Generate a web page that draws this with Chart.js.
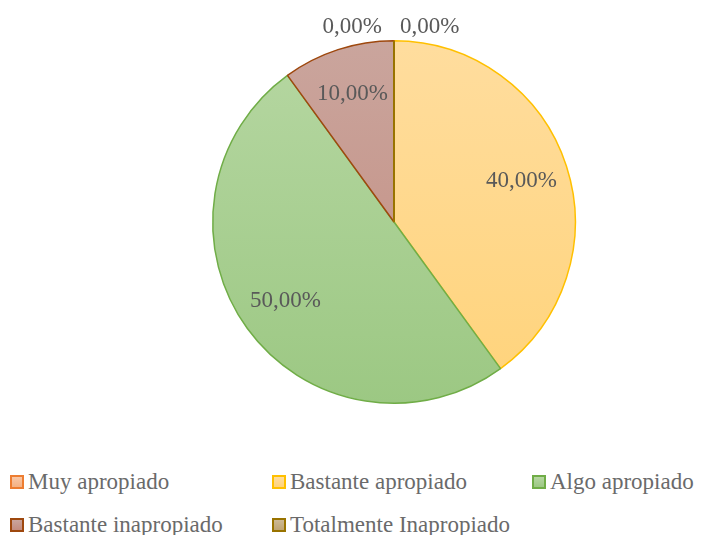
<!DOCTYPE html>
<html>
<head>
<meta charset="utf-8">
<script src="https://cdn.jsdelivr.net/npm/chart.js@4"></script>
<style>
  body { margin: 0; background: #fff; }
  #wrap { position: relative; width: 702px; height: 535px; }
  #legend .item {
    position: absolute; display: flex; align-items: center;
    font-family: 'Liberation Serif', 'DejaVu Serif', serif;
    font-size: 23px; color: #6a6a6a; line-height: 26px; white-space: nowrap;
  }
  #legend .box { width: 10px; height: 10px; border: 2px solid; margin-right: 4px; }
</style>
</head>
<body>
<div id="wrap">
  <canvas id="myChart" width="702" height="444"></canvas>
  <div id="legend"></div>
</div>

<script>
    // datos del gráfico
    var categorias = ['Muy apropiado', 'Bastante apropiado', 'Algo apropiado', 'Bastante inapropiado', 'Totalmente Inapropiado'];
    var valores = [0, 40, 50, 10, 0];
    var etiquetas = ['0,00%', '40,00%', '50,00%', '10,00%', '0,00%'];

    // colores (relleno arriba / abajo, borde)
    var rellenoArriba = ['#F9C7A6', '#FFDD9E', '#B6D7A2', '#CAA59D', '#CDB994'];
    var rellenoAbajo = ['#F4B183', '#FFD37A', '#9CC883', '#C38C7F', '#BFA473'];
    var bordes = ['#ED7D31', '#FFC000', '#70AD47', '#9E480E', '#997300'];

    var fuente = "'Liberation Serif', 'DejaVu Serif', serif";

    function degradado(context) {
        var chart = context.chart;
        var area = chart.chartArea;
        if (!area) return rellenoAbajo[context.dataIndex];
        var g = chart.ctx.createLinearGradient(0, area.top, 0, area.bottom);
        g.addColorStop(0, rellenoArriba[context.dataIndex]);
        g.addColorStop(1, rellenoAbajo[context.dataIndex]);
        return g;
    }

    // etiquetas de datos sobre el pastel
    var etiquetasPlugin = {
        id: 'etiquetas',
        afterDatasetsDraw: function(chart) {
            var ctx = chart.ctx;
            var arcs = chart.getDatasetMeta(0).data;
            ctx.save();
            // linea de los sectores con valor 0
            arcs.forEach(function(arc, i) {
                if (valores[i] !== 0) return;
                ctx.beginPath();
                ctx.moveTo(arc.x, arc.y);
                ctx.lineTo(arc.x + Math.cos(arc.startAngle) * arc.outerRadius, arc.y + Math.sin(arc.startAngle) * arc.outerRadius);
                ctx.strokeStyle = bordes[i];
                ctx.lineWidth = 2;
                ctx.stroke();
            });
            ctx.font = '23px ' + fuente;
            ctx.fillStyle = '#595959';
            ctx.textBaseline = 'middle';
            arcs.forEach(function(arc, i) {
                var mid = (arc.startAngle + arc.endAngle) / 2;
                if (valores[i] === 0) {
                    var r = arc.outerRadius + 14;
                    var x = arc.x + Math.cos(mid) * r;
                    var y = arc.y + Math.sin(mid) * r;
                    if (i < valores.length / 2) {
                        ctx.textAlign = 'left';
                        ctx.fillText(etiquetas[i], x + 6, y);
                    } else {
                        ctx.textAlign = 'right';
                        ctx.fillText(etiquetas[i], x - 12, y);
                    }
                } else {
                    var r2 = arc.outerRadius * 0.74;
                    ctx.textAlign = 'center';
                    ctx.fillText(etiquetas[i], arc.x + Math.cos(mid) * r2, arc.y + Math.sin(mid) * r2);
                }
            });
            ctx.restore();
        }
    };

    var ctx = document.getElementById('myChart').getContext('2d');
    var myChart = new Chart(ctx, {
        type: 'pie',
        data: {
            labels: categorias,
            datasets: [{
                data: valores,
                backgroundColor: degradado,
                borderColor: bordes,
                borderWidth: 1.5
            }]
        },
        options: {
            responsive: false,
            animation: false,
            layout: { padding: { left: 86, top: 40, bottom: 40 } },
            plugins: {
                legend: { display: false },
                tooltip: { enabled: false }
            }
        },
        plugins: [etiquetasPlugin]
    });

    // leyenda
    var columnas = [10, 272, 532];
    var filas = [469, 512];
    var leyenda = document.getElementById('legend');
    categorias.forEach(function(nombre, i) {
        var item = document.createElement('div');
        item.className = 'item';
        item.style.left = columnas[i % 3] + 'px';
        item.style.top = filas[Math.floor(i / 3)] + 'px';
        var box = document.createElement('span');
        box.className = 'box';
        box.style.background = 'linear-gradient(' + rellenoArriba[i] + ',' + rellenoAbajo[i] + ')';
        box.style.borderColor = bordes[i];
        item.appendChild(box);
        item.appendChild(document.createTextNode(nombre));
        leyenda.appendChild(item);
    });
</script>
</body>
</html>
